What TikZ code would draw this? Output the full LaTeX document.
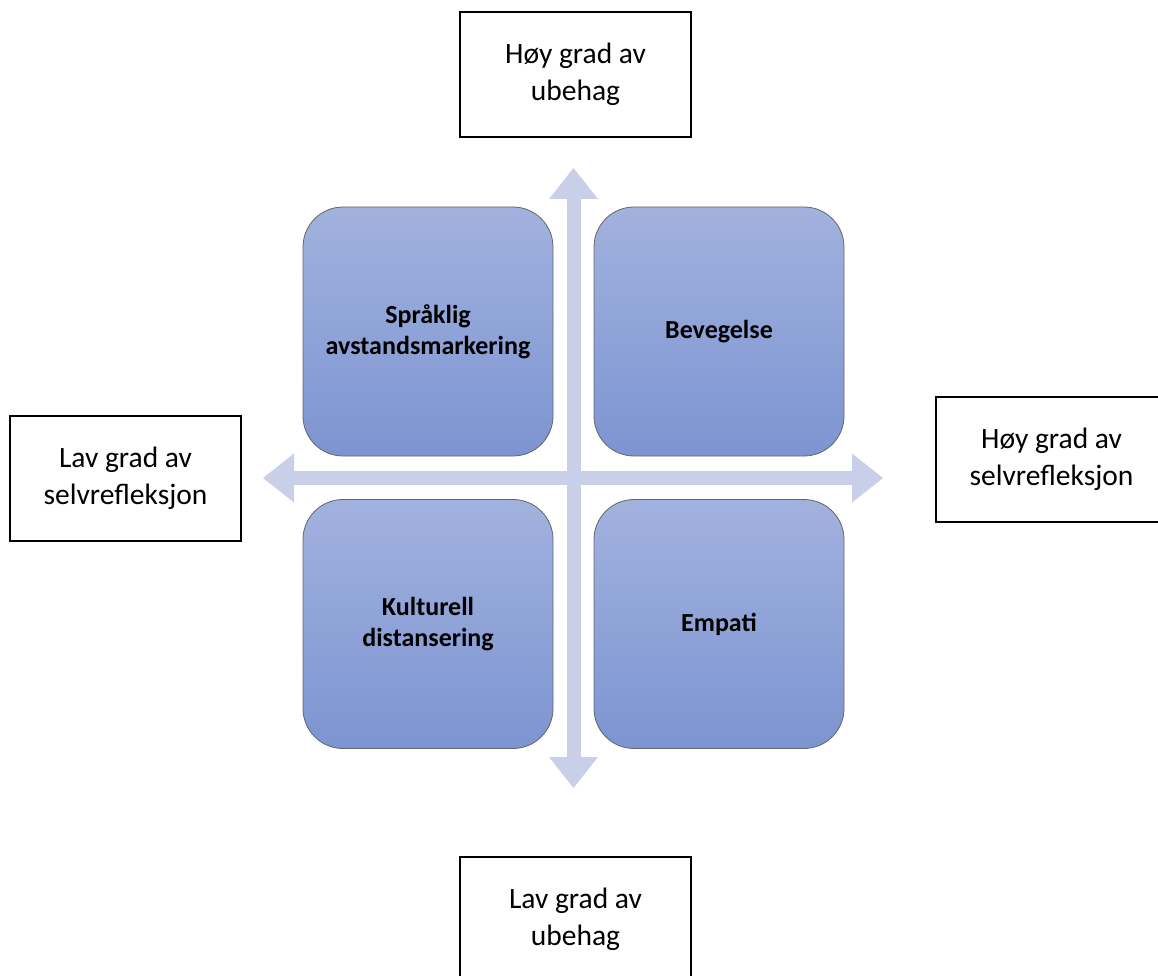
\documentclass[tikz,border=0pt]{standalone}
\usepackage{fontspec}
\setmainfont{Carlito}
\usetikzlibrary{positioning,arrows.meta}
\definecolor{quadtop}{HTML}{A2B2DE}
\definecolor{quadbot}{HTML}{7C94D1}
\definecolor{axisblue}{HTML}{C9CFE8}

\begin{document}
\begin{tikzpicture}[x=1pt,y=-1pt]
          \tikzstyle{every node}=[font=\fontsize{29.5}{37}\selectfont, align=center]
          \tikzstyle{axis}=[line width=14pt, draw=axisblue,
            {Triangle[width=49pt,length=31pt,line width=0pt]}-{Triangle[width=49pt,length=31pt,line width=0pt]}]
          \tikzstyle{quadrant}=[rounded corners=40pt, draw=black!60, line width=0.8pt,
            top color=quadtop, bottom color=quadbot, minimum width=250pt, minimum height=249pt,
            font=\fontsize{26}{31}\selectfont\bfseries]
          \tikzstyle{pole}=[draw=black, line width=1.5pt, minimum width=231pt, minimum height=125pt]

      \useasboundingbox (0,0) rectangle (1158,976);
      \clip (0,0) rectangle (1158,976);

      % akser
      \coordinate (nord) at (573.5,168);
      \coordinate (sor) at (573.5,788);
      \coordinate (vest) at (263,478);
      \coordinate (ost) at (883,478);
      \draw[axis] (sor) -- (nord);
      \draw[axis] (vest) -- (ost);

      % kvadranter
      \node[quadrant] (spraaklig) at (428,331.5) {Språklig\\avstandsmarkering};
      \node[quadrant] (bevegelse) at (719,331.5) {Bevegelse};
      \node[quadrant] (kulturell) at (428,624) {Kulturell\\distansering};
      \node[quadrant] (empati) at (719,624) {Empati};

      % poler
      \node[pole] (hoyubehag) at (575.5,74.5) {Høy grad av\\ubehag};
      \node[pole] (lavubehag) at (575.5,919.5) {Lav grad av\\ubehag};
      \node[pole] (lavrefleksjon) at (125.5,478.5) {Lav grad av\\selvrefleksjon};
      \node[pole] (hoyrefleksjon) at (1051.5,459.5) {Høy grad av\\selvrefleksjon};

\end{tikzpicture}
\end{document}
